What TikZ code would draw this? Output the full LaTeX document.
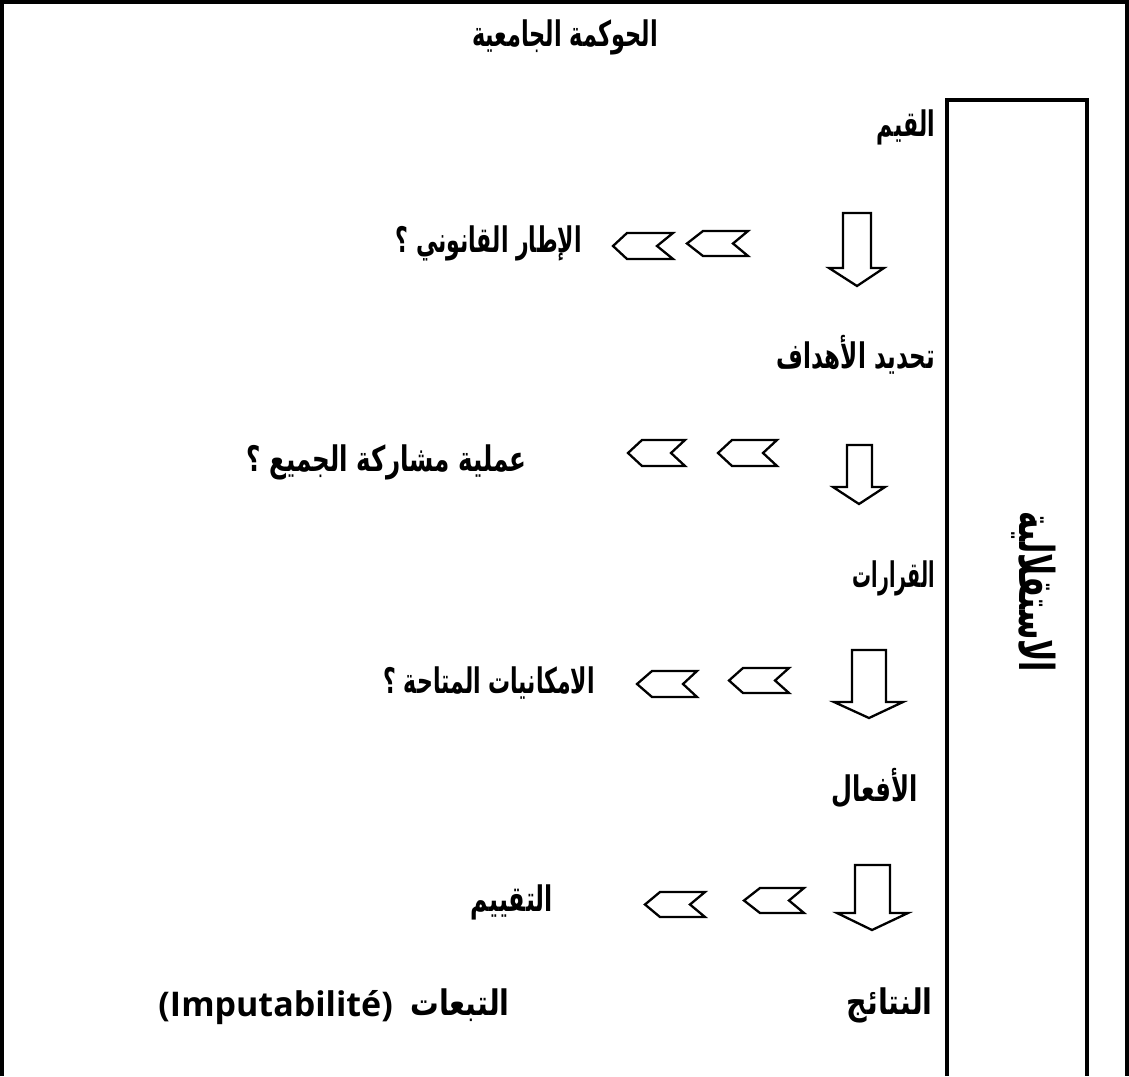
\documentclass[tikz,border=0pt]{standalone}
\usepackage{graphicx}
\usepackage{fontspec}
\TeXXeTstate=1
\newfontfamily\arabicfont[Script=Arabic]{DejaVu Sans}
\newfontfamily\latinfont{Open Sans}
\newcommand\ar[2][1]{\scalebox{#1}[1.6]{\arabicfont\bfseries\beginR #2\endR}}
\newcommand\mychev[6]{% tip corner right notch top bottom
  \draw[shapeline] (#1,{(#5+#6)/2}) -- (#2,#5) -- (#3,#5) -- (#4,{(#5+#6)/2}) -- (#3,#6) -- (#2,#6) -- cycle;}
\newcommand\mydown[8]{% shaftL shaftR top headbase headL headR tipx tipy
  \draw[shapeline] (#1,#3) -- (#2,#3) -- (#2,#4) -- (#6,#4) -- (#7,#8) -- (#5,#4) -- (#1,#4) -- cycle;}
\tikzset{
  shapeline/.style={line width=2.3pt, line join=miter},
  frameline/.style={line width=3.2pt},
  lbl/.style={inner sep=0pt, font=\fontsize{22}{26}\selectfont},
}
\begin{document}
\begin{tikzpicture}[x=1pt,y=-1pt]
\useasboundingbox (0,0) rectangle (1129,1076);
% outer frame (open at bottom)
\draw[frameline] (2,1076) -- (2,2) -- (1127,2) -- (1127,1076);
% inner column
\draw[frameline] (947,1076) -- (947,100) -- (1087,100) -- (1087,1076);
\node[lbl, rotate=-90, font=\fontsize{30}{34}\selectfont] (indep) at (1034,592) {\ar[1]{الاستقلالية}};
% title
\node[lbl] (title) at (565,37) {\ar[1.02]{الحوكمة الجامعية}};
% left-column labels
\node[lbl, anchor=east] (values) at (935,127) {\ar{القيم}};
\node[lbl, anchor=east] (legal) at (582,243) {\ar{الإطار القانوني ؟}};
\node[lbl, anchor=east] (goals) at (935,355) {\ar[1.05]{تحديد الأهداف}};
\node[lbl, anchor=east] (partic) at (527,462) {\ar[1.12]{عملية مشاركة الجميع ؟}};
\node[lbl, anchor=east] (decis) at (935,578) {\ar[0.86]{القرارات}};
\node[lbl, anchor=east] (means) at (595,683) {\ar{الامكانيات المتاحة ؟}};
\node[lbl, anchor=east] (acts) at (918,788) {\ar[1.1]{الأفعال}};
\node[lbl, anchor=east] (eval) at (553,902) {\ar[1.08]{التقييم}};
\node[lbl, anchor=east] (results) at (933,1005) {\ar[1.3]{النتائج}};
\node[lbl, anchor=east] (conseq) at (510,1005) {\ar[1.3]{التبعات}};
\node[lbl, anchor=east, font=\latinfont\bfseries\fontsize{34}{40}\selectfont] (imput) at (393,1008) {(Imputabilité)};
% down arrows
\mydown{843}{871}{213}{268}{829}{884}{857}{286}
\mydown{847}{872}{445}{487}{833}{885}{859}{504}
\mydown{852}{886}{650}{702}{834}{903}{869}{718}
\mydown{855}{890}{865}{913}{837}{908}{872}{930}
% chevrons
\mychev{613}{627}{673}{657}{233}{259}
\mychev{687}{703}{748}{733}{231}{256}
\mychev{628}{642}{685}{671}{440}{466}
\mychev{718}{732}{777}{763}{440}{466}
\mychev{637}{652}{697}{683}{671}{697}
\mychev{729}{743}{789}{775}{668}{693}
\mychev{645}{660}{705}{690}{892}{917}
\mychev{744}{760}{804}{789}{888}{913}
\end{tikzpicture}
\end{document}
